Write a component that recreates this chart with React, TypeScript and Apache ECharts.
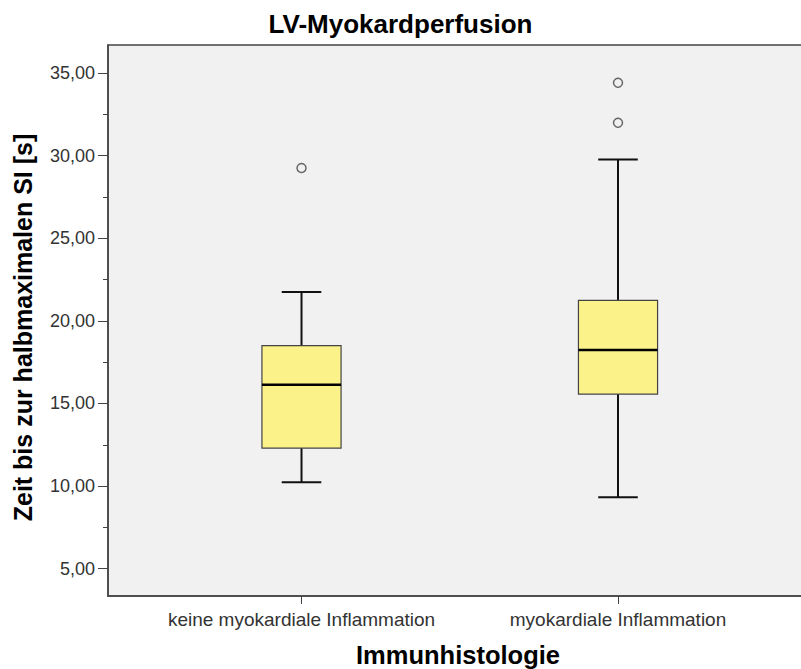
import { useEffect, useRef } from "react";
import * as echarts from "echarts";

const categories = ["keine myokardiale Inflammation", "myokardiale Inflammation"];
// per group: [lower whisker, Q1, median, Q3, upper whisker]
const boxStats = [
  [10.23, 12.3, 16.14, 18.5, 21.75],
  [9.32, 15.57, 18.23, 21.24, 29.76],
];
// [group index, value]
const outliers = [
  [0, 29.25],
  [1, 31.99],
  [1, 34.41],
];
const majorTicks = [5, 10, 15, 20, 25, 30, 35];
const minorTicks = [7.5, 12.5, 17.5, 22.5, 27.5, 32.5];

const FONT = "'Liberation Sans', Arial, sans-serif";
const BOX_HALF = 0.125;
const CAP_HALF = 0.0625;
const Y_MIN = 3.348;
const Y_MAX = 36.695;

export default function App() {
  const ref = useRef<HTMLDivElement>(null);

  useEffect(() => {
    if (!ref.current) return;
    const chart = echarts.init(ref.current, null, { renderer: "svg" });

    const fmt = (v: number) => v.toFixed(2).replace(".", ",");

    chart.setOption({
      animation: false,
      backgroundColor: "#ffffff",
      title: {
        text: "LV-Myokardperfusion",
        left: "center",
        top: 6,
        textStyle: { fontFamily: FONT, fontSize: 26, fontWeight: "bold", color: "#000" },
      },
      grid: {
        left: 108,
        top: 45,
        width: 700,
        bottom: 73,
        containLabel: false,
        outerBoundsMode: "none",
        show: true,
        backgroundColor: "#f1f1f1",
        borderColor: "#444",
        borderWidth: 1.5,
      },
      xAxis: {
        type: "value",
        min: -0.6114,
        max: 1.6003,
        axisLine: { show: true, onZero: false, lineStyle: { color: "#444", width: 1.5 } },
        axisTick: {
          show: true,
          customValues: [0, 1],
          length: 8,
          lineStyle: { color: "#444", width: 1 },
        },
        axisLabel: {
          customValues: [0, 1],
          formatter: (v: number) => categories[Math.round(v)] ?? "",
          fontFamily: FONT,
          fontSize: 19,
          color: "#333",
          margin: 14,
        },
        splitLine: { show: false },
        name: "Immunhistologie",
        nameLocation: "middle",
        nameGap: 46,
        nameTextStyle: { fontFamily: FONT, fontSize: 25.5, fontWeight: "bold", color: "#000" },
      },
      yAxis: [
        {
          type: "value",
          position: "left",
          min: Y_MIN,
          max: Y_MAX,
          axisLine: { show: true, onZero: false, lineStyle: { color: "#444", width: 1.5 } },
          axisTick: {
            show: true,
            customValues: majorTicks,
            length: 10,
            lineStyle: { color: "#444", width: 1 },
          },
          axisLabel: {
            customValues: majorTicks,
            formatter: fmt,
            fontFamily: FONT,
            fontSize: 18,
            color: "#333",
            margin: 13,
          },
          splitLine: { show: false },
          name: "Zeit bis zur halbmaximalen SI [s]",
          nameLocation: "middle",
          nameGap: 73,
          nameTextStyle: {
            fontFamily: FONT,
            fontSize: 25,
            fontWeight: "bold",
            color: "#000",
            padding: [0, 14, 0, 0],
          },
        },
        {
          type: "value",
          position: "left",
          min: Y_MIN,
          max: Y_MAX,
          axisLine: { show: false, onZero: false },
          axisTick: {
            show: true,
            customValues: minorTicks,
            length: 5,
            lineStyle: { color: "#444", width: 1 },
          },
          axisLabel: { show: false },
          splitLine: { show: false },
        },
      ],
      series: [
        {
          type: "custom",
          xAxisIndex: 0,
          yAxisIndex: 0,
          data: boxStats.map((s, i) => [i, ...s]),
          encode: { x: 0, y: [1, 2, 3, 4, 5] },
          renderItem: (_params: any, api: any) => {
            const x = api.value(0);
            const lo = api.value(1);
            const q1 = api.value(2);
            const med = api.value(3);
            const q3 = api.value(4);
            const hi = api.value(5);
            const c = api.coord;
            const [cx, yHi] = c([x, hi]);
            const [, yLo] = c([x, lo]);
            const [bl, yQ3] = c([x - BOX_HALF, q3]);
            const [br, yQ1] = c([x + BOX_HALF, q1]);
            const [, yMed] = c([x, med]);
            const [capL] = c([x - CAP_HALF, hi]);
            const [capR] = c([x + CAP_HALF, hi]);
            const whisker = { stroke: "#111", lineWidth: 2 };
            return {
              type: "group",
              children: [
                { type: "line", shape: { x1: cx, y1: yHi, x2: cx, y2: yQ3 }, style: whisker },
                { type: "line", shape: { x1: cx, y1: yQ1, x2: cx, y2: yLo }, style: whisker },
                { type: "line", shape: { x1: capL, y1: yHi, x2: capR, y2: yHi }, style: whisker },
                { type: "line", shape: { x1: capL, y1: yLo, x2: capR, y2: yLo }, style: whisker },
                {
                  type: "rect",
                  shape: { x: bl, y: yQ3, width: br - bl, height: yQ1 - yQ3 },
                  style: { fill: "#fcf28a", stroke: "#444", lineWidth: 1.2 },
                },
                {
                  type: "line",
                  shape: { x1: bl, y1: yMed, x2: br, y2: yMed },
                  style: { stroke: "#000", lineWidth: 2.5 },
                },
              ],
            };
          },
        },
        {
          type: "scatter",
          xAxisIndex: 0,
          yAxisIndex: 0,
          data: outliers,
          symbol: "circle",
          symbolSize: 9,
          itemStyle: { color: "#f1f1f1", borderColor: "#444", borderWidth: 1.5 },
        },
      ],
    });

    return () => chart.dispose();
  }, []);

  return (
    <div
      ref={ref}
      style={{ position: "fixed", left: 0, top: 0, width: 801, height: 669 }}
    />
  );
}
